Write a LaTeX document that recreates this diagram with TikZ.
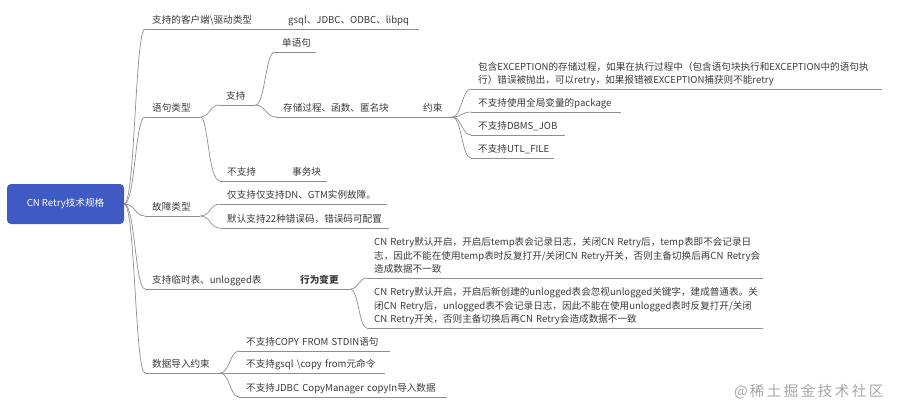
\documentclass[tikz,border=0pt]{standalone}
\usepackage{fontspec}
\setmainfont{Noto Sans CJK SC}
\definecolor{rootblue}{HTML}{3F5BC3}
\definecolor{lncol}{HTML}{8E8E8E}
\definecolor{txtcol}{HTML}{3A3A3A}
\newcommand\fs{\fontsize{9.6pt}{13.5pt}\selectfont}
\newcommand\dstrut{\rule[-2.2pt]{0pt}{2.2pt}}
\tikzset{
  topic/.style={anchor=south west, inner xsep=7pt, inner ysep=3pt, align=left,
    font=\fs, text=txtcol, execute at end node=\dstrut},
  uline/.style={draw=lncol, line width=0.7pt},
  conn/.style={draw=lncol, line width=0.7pt},
  rootbox/.style={rectangle, rounded corners=4pt, fill=rootblue, text=white,
    minimum width=117pt, minimum height=40pt, font=\fs, inner sep=0pt},
  wmark/.style={anchor=west, text=black!35, font=\fontsize{14.5pt}{18pt}\selectfont, inner sep=0pt}
}
\begin{document}
\begin{tikzpicture}[x=1pt,y=-1pt]
\useasboundingbox (0,0) rectangle (901,409);

% root
\node[rootbox] (root) at (65.5,204) {CN Retry技术规格};

% level 1 and descendants
\node[topic, text width=122pt] (b1) at (145,29) {支持的客户端\textbackslash{}驱动类型};
\node[topic, text width=124pt] (b1c) at (281,29) {\mbox{gsql、JDBC、ODBC、libpq}};

\node[topic, text width=41pt] (b2) at (145,117) {语句类型};
\node[topic, text width=22pt] (b2a) at (219,105) {支持};
\node[topic, text width=27pt] (s1) at (275,52) {单语句};
\node[topic, text width=126pt] (s2) at (276,117) {存储过程、函数、匿名块};
\node[topic, text width=22pt] (s2c) at (416,117) {约束};
\node[topic, text width=397pt] (e1) at (471,89) {\mbox{包含EXCEPTION的存储过程，如果在执行过程中（包含语句块执行和EXCEPTION中的语句执}\\\mbox{行）错误被抛出，可以retry，如果报错被EXCEPTION捕获则不能retry}};
\node[topic, text width=136pt] (e2) at (471,112) {不支持使用全局变量的package};
\node[topic, text width=80pt] (e3) at (471,135) {不支持DBMS\_JOB};
\node[topic, text width=69pt] (e4) at (471,158) {不支持UTL\_FILE};
\node[topic, text width=51pt] (b2b) at (220,181) {不支持};
\node[topic, text width=28pt] (b2bc) at (285,181) {事务块};

\node[topic, text width=41pt] (b3) at (145,216) {故障类型};
\node[topic, text width=153pt] (f1) at (220,204) {仅支持仅支持DN、GTM实例故障。};
\node[topic, text width=155pt] (f2) at (220,228) {默认支持22种错误码，错误码可配置};

\node[topic, text width=134pt] (b4) at (145,289) {\mbox{支持临时表、unlogged表}};
\node[topic, text width=43pt, font=\fs\bfseries] (b4c) at (293,289) {行为变更};
\node[topic, text width=382pt] (t1) at (367,278) {\mbox{CN Retry默认开启，开启后temp表会记录日志，关闭CN Retry后，temp表即不会记录日}\\\mbox{志，因此不能在使用temp表时反复打开/关闭CN Retry开关，否则主备切换后再CN Retry会}\\\mbox{造成数据不一致}};
\node[topic, text width=382pt] (t2) at (367,328) {\mbox{CN Retry默认开启，开启后新创建的unlogged表会忽视unlogged关键字，建成普通表。关}\\\mbox{闭CN Retry后，unlogged表不会记录日志，因此不能在使用unlogged表时反复打开/关闭}\\\mbox{CN Retry开关，否则主备切换后再CN Retry会造成数据不一致}};

\node[topic, text width=61pt] (b5) at (145,373) {数据导入约束};
\node[topic, text width=137pt] (d1) at (239,351) {\mbox{不支持COPY FROM STDIN语句}};
\node[topic, text width=132pt] (d2) at (239,373) {\mbox{不支持gsql \textbackslash{}copy from元命令}};
\node[topic, text width=194pt] (d3) at (239,397) {\mbox{不支持JDBC CopyManager copyIn导入数据}};

% underlines
\foreach \n in {b1,b1c,b2,b2a,s1,s2,s2c,e1,e2,e3,e4,b2b,b2bc,b3,f1,f2,b4,b4c,t1,t2,b5,d1,d2,d3}
  \draw[uline] (\n.south west) -- (\n.south east);

% connectors from root
\foreach \n in {b1,b2,b3,b4,b5}
  \draw[conn] (root.east) .. controls +(11,0) and +(-10,0) .. (\n.south west);

% inner connectors
\draw[conn] (b1.south east) -- (b1c.south west);
\draw[conn] (b2.south east) .. controls +(9,0) and +(-9,0) .. (b2a.south west);
\draw[conn] (b2.south east) .. controls +(8,0) and +(-12,0) .. (b2b.south west);
\draw[conn] (b2a.south east) .. controls +(10,0) and +(-10,0) .. (s1.south west);
\draw[conn] (b2a.south east) .. controls +(10,0) and +(-10,0) .. (s2.south west);
\draw[conn] (s2.south east) -- (s2c.south west);
\foreach \n in {e1,e2,e3,e4}
  \draw[conn] (s2c.south east) .. controls +(9,0) and +(-9,0) .. (\n.south west);
\draw[conn] (b2b.south east) -- (b2bc.south west);
\foreach \n in {f1,f2}
  \draw[conn] (b3.south east) .. controls +(10,0) and +(-10,0) .. (\n.south west);
\draw[conn] (b4.south east) -- (b4c.south west);
\foreach \n in {t1,t2}
  \draw[conn] (b4c.south east) .. controls +(8,0) and +(-8,0) .. (\n.south west);
\foreach \n in {d1,d2,d3}
  \draw[conn] (b5.south east) .. controls +(9,0) and +(-9,0) .. (\n.south west);

% watermark
\node[wmark] (wm) at (734,392) {@\kern2pt 稀\kern2.5pt 土\kern2.5pt 掘\kern2.5pt 金\kern2.5pt 技\kern2.5pt 术\kern2.5pt 社\kern2.5pt 区};
\end{tikzpicture}
\end{document}
